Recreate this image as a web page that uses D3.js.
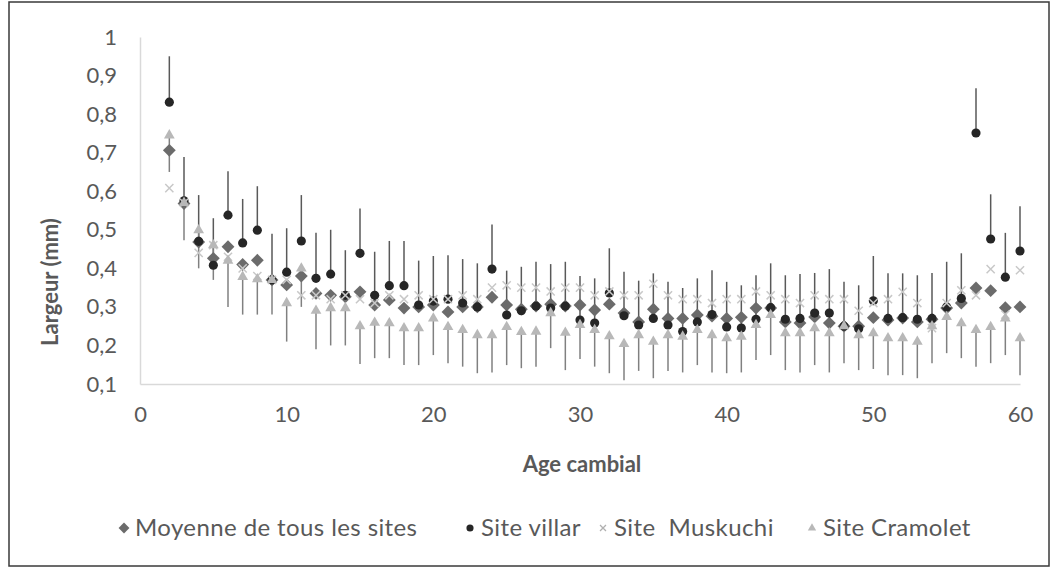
<!DOCTYPE html>
<html>
<head>
<meta charset="utf-8">
<script src="https://cdnjs.cloudflare.com/ajax/libs/d3/7.8.5/d3.min.js"></script>
<style>
  body { margin: 0; background: #fff; }
  text { font-family: Lato, "Open Sans", sans-serif; fill: #595959; }
</style>
</head>
<body>
<div id="chart"></div>
<script>
// age cambial 2..60
var ages = d3.range(2, 61);

var moyenne = [0.706, 0.568, 0.468, 0.426, 0.456, 0.41, 0.421, 0.37, 0.357, 0.38,
  0.335, 0.33, 0.326, 0.339, 0.305, 0.318, 0.297, 0.30, 0.305, 0.287,
  0.30, 0.30, 0.325, 0.305, 0.294, 0.302, 0.307, 0.302, 0.305, 0.292,
  0.307, 0.284, 0.261, 0.294, 0.27, 0.27, 0.279, 0.276, 0.27, 0.273,
  0.297, 0.297, 0.261, 0.258, 0.274, 0.258, 0.25, 0.25, 0.272, 0.266,
  0.271, 0.261, 0.268, 0.297, 0.31, 0.349, 0.342, 0.298, 0.30];

var villar = [0.831, 0.575, 0.47, 0.408, 0.538, 0.466, 0.499, 0.37, 0.39, 0.471,
  0.374, 0.385, 0.33, 0.439, 0.33, 0.355, 0.355, 0.305, 0.315, 0.32,
  0.31, 0.30, 0.398, 0.279, 0.29, 0.302, 0.297, 0.302, 0.266, 0.258,
  0.336, 0.277, 0.253, 0.27, 0.253, 0.236, 0.261, 0.28, 0.248, 0.245,
  0.268, 0.298, 0.268, 0.27, 0.284, 0.284, 0.25, 0.243, 0.316, 0.27,
  0.272, 0.268, 0.27, 0.30, 0.322, 0.751, 0.476, 0.377, 0.445];
var villarTop = [0.95, 0.689, 0.59, 0.53, 0.652, 0.58, 0.613, 0.49, 0.504, 0.59,
  0.492, 0.50, 0.447, 0.555, 0.443, 0.471, 0.471, 0.42, 0.432, 0.434,
  0.424, 0.413, 0.514, 0.394, 0.404, 0.417, 0.411, 0.417, 0.38, 0.374,
  0.452, 0.391, 0.368, 0.387, 0.365, 0.349, 0.374, 0.395, 0.365, 0.356,
  0.382, 0.413, 0.382, 0.385, 0.388, 0.398, 0.365, 0.356, 0.432, 0.387,
  0.387, 0.382, 0.388, 0.417, 0.439, 0.867, 0.592, 0.492, 0.561];

var muskuchi = [0.608, 0.57, 0.44, 0.46, 0.43, 0.40, 0.38, 0.37, 0.37, 0.33,
  0.33, 0.32, 0.33, 0.32, 0.31, 0.33, 0.32, 0.33, 0.32, 0.32,
  0.33, 0.32, 0.35, 0.356, 0.35, 0.35, 0.34, 0.35, 0.35, 0.33,
  0.34, 0.33, 0.33, 0.36, 0.33, 0.32, 0.32, 0.31, 0.32, 0.32,
  0.34, 0.33, 0.32, 0.31, 0.33, 0.32, 0.32, 0.29, 0.31, 0.32,
  0.339, 0.31, 0.245, 0.31, 0.343, 0.33, 0.398, 0.28, 0.395];

var cramolet = [0.745, 0.57, 0.499, 0.46, 0.42, 0.378, 0.372, 0.37, 0.31, 0.40,
  0.29, 0.297, 0.297, 0.25, 0.259, 0.258, 0.245, 0.245, 0.27, 0.248,
  0.24, 0.227, 0.227, 0.248, 0.235, 0.236, 0.284, 0.233, 0.253, 0.24,
  0.224, 0.204, 0.227, 0.21, 0.227, 0.223, 0.24, 0.227, 0.219, 0.223,
  0.253, 0.279, 0.232, 0.232, 0.245, 0.232, 0.25, 0.227, 0.232, 0.219,
  0.219, 0.21, 0.25, 0.274, 0.258, 0.24, 0.248, 0.27, 0.219];
var cramoletBottom = [0.65, 0.473, 0.40, 0.37, 0.30, 0.28, 0.28, 0.28, 0.21, 0.30,
  0.19, 0.20, 0.20, 0.152, 0.167, 0.167, 0.149, 0.149, 0.175, 0.154,
  0.145, 0.128, 0.13, 0.149, 0.141, 0.145, 0.193, 0.136, 0.165, 0.145,
  0.128, 0.11, 0.134, 0.115, 0.134, 0.13, 0.149, 0.13, 0.128, 0.13,
  0.162, 0.175, 0.136, 0.13, 0.149, 0.13, 0.154, 0.136, 0.139, 0.123,
  0.123, 0.115, 0.154, 0.18, 0.167, 0.145, 0.154, 0.175, 0.123];

var xTicks = [0, 10, 20, 30, 40, 50, 60];
var yTicks = [0.1, 0.2, 0.3, 0.4, 0.5, 0.6, 0.7, 0.8, 0.9, 1];
var yTickLabels = ["0,1", "0,2", "0,3", "0,4", "0,5", "0,6", "0,7", "0,8", "0,9", "1"];

var legendItems = [
  {label: "Moyenne de tous les sites", sym: "diamond", x: 124},
  {label: "Site villar", sym: "circle", x: 470},
  {label: "Site  Muskuchi", sym: "cross", x: 603},
  {label: "Site Cramolet", sym: "triangle", x: 812}
];

var svgWidth = 1056;
var svgHeight = 571;

var svg = d3.select("#chart")
  .append("svg")
  .attr("width", svgWidth)
  .attr("height", svgHeight);

// outer frame
svg.append("rect")
  .attr("x", 9)
  .attr("y", 2)
  .attr("width", 1040)
  .attr("height", 564)
  .attr("fill", "#fff")
  .attr("stroke", "#3a3a3a")
  .attr("stroke-width", 1.5);

var xScale = d3.scaleLinear().domain([0, 60]).range([140, 1020]);
var yScale = d3.scaleLinear().domain([0.1, 1]).range([384, 37]);

// axes
var xAxis = svg.append("g")
  .attr("transform", `translate(0, ${yScale(0.1)})`)
  .call(d3.axisBottom(xScale).tickValues(xTicks).tickSize(0).tickPadding(22));
xAxis.select(".domain").attr("stroke", "#d9d9d9").attr("stroke-width", 1.5);
xAxis.selectAll("text").style("font-size", "22px").attr("fill", "#6a6a6a")
  .style("font-family", "Lato, sans-serif");

var yAxis = svg.append("g")
  .attr("transform", `translate(${xScale(0)}, 0)`)
  .call(d3.axisLeft(yScale).tickValues(yTicks).tickSize(0).tickPadding(23)
    .tickFormat((d, i) => yTickLabels[i]));
yAxis.select(".domain").attr("stroke", "#d9d9d9").attr("stroke-width", 1.5);
yAxis.selectAll("text").style("font-size", "22px").attr("fill", "#6a6a6a")
  .style("font-family", "Lato, sans-serif");

// axis titles
svg.append("text")
  .attr("transform", `translate(58, 282) rotate(-90)`)
  .attr("text-anchor", "middle")
  .style("font-size", "22px")
  .style("font-weight", "bold")
  .text("Largeur (mm)");

svg.append("text")
  .attr("x", 582)
  .attr("y", 472)
  .attr("text-anchor", "middle")
  .style("font-size", "22px")
  .style("font-weight", "bold")
  .text("Age cambial");

var plot = svg.append("g");

// error bars: villar upward, Cramolet downward
plot.selectAll(".errV")
  .data(ages)
  .enter()
  .append("line")
  .attr("x1", (d, i) => xScale(d))
  .attr("x2", (d, i) => xScale(d))
  .attr("y1", (d, i) => yScale(villar[i]))
  .attr("y2", (d, i) => yScale(villarTop[i]))
  .attr("stroke", "#595959")
  .attr("stroke-width", 1.5);

plot.selectAll(".errC")
  .data(ages)
  .enter()
  .append("line")
  .attr("x1", (d, i) => xScale(d))
  .attr("x2", (d, i) => xScale(d))
  .attr("y1", (d, i) => yScale(cramolet[i]))
  .attr("y2", (d, i) => yScale(cramoletBottom[i]))
  .attr("stroke", "#808080")
  .attr("stroke-width", 1.5);

var diamond = d3.symbol().type(d3.symbolDiamond2).size(105);
var circle = d3.symbol().type(d3.symbolCircle).size(66);
var cross = d3.symbol().type(d3.symbolX).size(45);
var triangle = d3.symbol().type(d3.symbolTriangle).size(50);

plot.selectAll(".moy")
  .data(ages)
  .enter()
  .append("path")
  .attr("d", diamond)
  .attr("transform", (d, i) => `translate(${xScale(d)}, ${yScale(moyenne[i])})`)
  .attr("fill", "#6b6b6b");

plot.selectAll(".vil")
  .data(ages)
  .enter()
  .append("path")
  .attr("d", circle)
  .attr("transform", (d, i) => `translate(${xScale(d)}, ${yScale(villar[i])})`)
  .attr("fill", "#262626");

plot.selectAll(".mus")
  .data(ages)
  .enter()
  .append("path")
  .attr("d", cross)
  .attr("transform", (d, i) => `translate(${xScale(d)}, ${yScale(muskuchi[i])})`)
  .attr("fill", "none")
  .attr("stroke", "#c8c8c8")
  .attr("stroke-width", 1.5);

plot.selectAll(".cra")
  .data(ages)
  .enter()
  .append("path")
  .attr("d", triangle)
  .attr("transform", (d, i) => `translate(${xScale(d)}, ${yScale(cramolet[i])})`)
  .attr("fill", "#b8b8b8");

// legend
var legend = svg.append("g").attr("transform", "translate(0, 528)");
var symFor = {
  diamond: d3.symbol().type(d3.symbolDiamond2).size(75),
  circle: d3.symbol().type(d3.symbolCircle).size(40),
  cross: d3.symbol().type(d3.symbolX).size(25),
  triangle: d3.symbol().type(d3.symbolTriangle).size(30)
};
var fillFor = {diamond: "#6b6b6b", circle: "#262626", cross: "none", triangle: "#b8b8b8"};

legendItems.forEach(function(item) {
  legend.append("path")
    .attr("d", symFor[item.sym]())
    .attr("transform", `translate(${item.x}, 0)`)
    .attr("fill", fillFor[item.sym])
    .attr("stroke", item.sym === "cross" ? "#b0b0b0" : "none")
    .attr("stroke-width", 1.3);
  legend.append("text")
    .attr("x", item.x + 11)
    .attr("y", 8)
    .style("font-size", "24px")
    .style("letter-spacing", "0.4px")
    .style("white-space", "pre")
    .attr("xml:space", "preserve")
    .text(item.label);
});
</script>
</body>
</html>
